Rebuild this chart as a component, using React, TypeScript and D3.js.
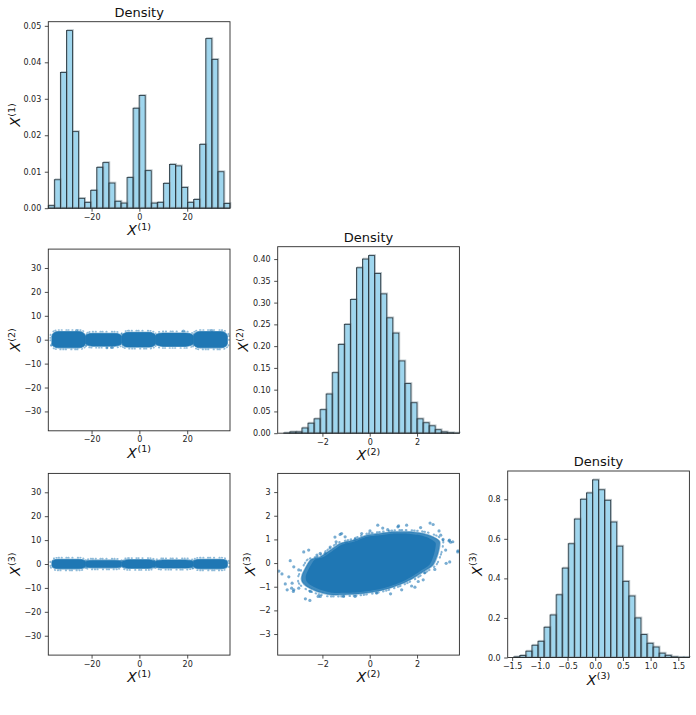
import React, { useEffect, useRef } from 'react';
import * as d3 from 'd3';

const WIDTH = 696;
const HEIGHT = 715;

// axis limits of the three variables
const x1Domain: [number, number] = [-38.1, 37.9];
const x2Domain: [number, number] = [-3.89, 3.79];
const x3Domain: [number, number] = [-1.58, 1.7];

// histogram densities, 30 equal bins spanning each axis range
const x1Density = [0.0007, 0.0078, 0.0372, 0.0487, 0.021, 0.0027, 0.0016, 0.0049, 0.0112, 0.0125,
  0.0069, 0.0019, 0.0014, 0.0084, 0.0274, 0.0309, 0.0103, 0.0014, 0.0016, 0.0068,
  0.012, 0.0116, 0.0057, 0.0016, 0.0024, 0.0175, 0.0465, 0.0408, 0.01, 0.0013];
const x2Density = [0, 0.0005, 0.003, 0.003, 0.012, 0.023, 0.033, 0.054, 0.09, 0.139,
  0.204, 0.25, 0.307, 0.38, 0.4, 0.408, 0.367, 0.32, 0.265, 0.23,
  0.166, 0.114, 0.07, 0.033, 0.024, 0.017, 0.008, 0.003, 0.001, 0.0003];
const x3Density = [0, 0.003, 0.01, 0.032, 0.062, 0.082, 0.153, 0.215, 0.317, 0.452,
  0.575, 0.7, 0.8, 0.832, 0.898, 0.848, 0.795, 0.685, 0.563, 0.385,
  0.311, 0.2, 0.116, 0.072, 0.053, 0.022, 0.011, 0.003, 0.001, 0.001];

// tick values
const x1Ticks = [-20, 0, 20];
const x1WideTicks = [-30, -20, -10, 0, 10, 20, 30];
const x2Ticks = [-2, 0, 2];
const x2WideTicks = [-3, -2, -1, 0, 1, 2, 3];
const x3Ticks = [-1.5, -1, -0.5, 0, 0.5, 1, 1.5];
const dens1Ticks = [0, 0.01, 0.02, 0.03, 0.04, 0.05];
const dens2Ticks = [0, 0.05, 0.1, 0.15, 0.2, 0.25, 0.3, 0.35, 0.4];
const dens3Ticks = [0, 0.2, 0.4, 0.6, 0.8];

// the five groups along X(1) and the half spread of X(2), X(3) inside each
const groupCenter = [-29.6, -15.0, -0.3, 14.6, 29.7];
const groupHalfWidth = [7.0, 7.6, 7.0, 8.0, 7.1];
const groupHalfX2 = [3.4, 2.7, 3.1, 2.8, 3.4];
const groupHalfX3 = [2.0, 1.6, 1.8, 1.7, 2.0];

// stray points above / below the groups (X1, X2)
const strayX1X2: [number, number][] = [[-26.3, 3.9], [18.4, 3.6], [30.3, 3.9], [-36.6, -2.1], [-13.6, -3.4], [-11.5, -3.3]];

// X(2) vs X(3): outline of the dense cloud
const cloudOutline: [number, number][] = [
  [-2.86, -0.5], [-2.51, 0.13], [-2.09, 0.27], [-1.67, 0.55], [-1.25, 0.83], [-0.69, 0.97],
  [-0.13, 1.18], [0.43, 1.25], [1.0, 1.32], [1.7, 1.32], [2.26, 1.25], [2.68, 1.11],
  [2.96, 0.9], [2.89, 0.41], [2.68, -0.08], [2.26, -0.37], [1.84, -0.64], [1.42, -0.85],
  [0.85, -1.06], [0.29, -1.2], [-0.41, -1.3], [-1.11, -1.34], [-1.67, -1.34], [-2.23, -1.2],
  [-2.65, -1.0], [-2.86, -0.79]];

// scattered points around the cloud
const cloudStray: [number, number][] = [
  [0.34, 1.6], [0.55, 1.48], [0.76, 1.41], [1.22, 1.57], [1.56, 1.6], [2.15, 1.5], [2.55, 1.69],
  [2.68, 1.63], [2.93, 1.36], [3.0, 1.18], [3.1, 1.0], [3.35, 0.94], [3.42, 0.88], [3.21, 0.55],
  [3.73, 0.52], [3.38, 0.05], [2.75, -0.27], [2.33, -0.41], [2.26, -0.71], [2.05, -0.78],
  [1.77, -0.97], [1.91, -1.02], [1.35, -1.13], [0.88, -1.3], [0.29, -1.27], [-0.62, -1.41],
  [-1.11, -1.41], [-2.09, -1.41], [-2.51, -1.2], [-2.72, -1.51], [-3.0, -1.06], [-3.21, -1.13],
  [-3.28, -0.85], [-3.42, -0.58], [-3.57, -0.88], [-3.71, -0.46], [-3.36, 0.1], [-3.21, -0.16],
  [-3.0, -0.29], [-2.79, 0.47], [-2.58, 0.55], [-2.09, 0.41], [-1.67, 0.68], [-1.25, 1.21],
  [-1.04, 1.11], [-0.62, 1.0], [-0.34, 1.25], [0.01, 1.36], [-0.97, 0.83], [-1.42, 0.9],
  [-1.88, 0.41], [-2.23, 0.34], [-3.84, -0.34], [-3.49, -1.13], [-3.3, -1.06], [-3.23, -1.2],
  [-2.53, -1.58], [-2.18, -1.41], [1.19, 1.53], [3.23, -0.01], [3.37, 0.97], [3.51, 0.9],
  [3.72, 0.47], [-1.19, 1.25], [-1.47, 1.1]];

// layout
const colLeft = [48.3, 277.7, 507.7];
const rowTop = [21.7, 246.7, 471];
const cellW = 181.7;
const cellH = 186.5;
const squareSize = 181.7;

const FONT = "'DejaVu Sans', sans-serif";
const BLUE = '#1f77b4';
const SPECKLE = '0.5 2.4 0.5 4.2 0.5 1.6 0.5 3.4 0.5 5 0.5 2';

type Sel = d3.Selection<SVGGElement, unknown, null, undefined>;

function styleAxis(ax: Sel) {
  ax.select('.domain').remove();
  ax.selectAll('line').attr('stroke', '#222').attr('stroke-width', 0.8);
  ax.selectAll('text').attr('fill', '#222').style('font-size', '8px').style('font-family', FONT);
}

function mathLabel(g: Sel, n: number, x: number, y: number, rotate: boolean) {
  const t = g.append('text')
    .attr('transform', `translate(${x},${y})${rotate ? ' rotate(-90)' : ''}`)
    .attr('text-anchor', 'middle')
    .attr('fill', '#111')
    .style('font-family', FONT);
  t.append('tspan').attr('font-style', 'italic').attr('font-size', 14).text('X');
  t.append('tspan').attr('font-size', 9.5).attr('dy', -5.5).attr('dx', 0.5).text(`(${n})`);
}

function axes(g: Sel, x: d3.ScaleLinear<number, number>, y: d3.ScaleLinear<number, number>,
  w: number, h: number, xTicks: number[], yTicks: number[], xFmt: string, yFmt: string) {
  const bx = g.append('g').attr('transform', `translate(0,${h})`)
    .call(d3.axisBottom(x).tickValues(xTicks).tickFormat(d3.format(xFmt)).tickSize(3.5).tickPadding(2.5));
  styleAxis(bx);
  const ly = g.append('g')
    .call(d3.axisLeft(y).tickValues(yTicks).tickFormat(d3.format(yFmt)).tickSize(3.5).tickPadding(3.5));
  styleAxis(ly);
  g.append('rect').attr('width', w).attr('height', h)
    .attr('fill', 'none').attr('stroke', '#2a2a2a').attr('stroke-width', 0.9);
}

function drawHist(root: Sel, k: number, domain: [number, number], density: number[],
  xTicks: number[], yTicks: number[], xFmt: string, yFmt: string, ylabOff: number) {
  const g = root.append('g').attr('transform', `translate(${colLeft[k]},${rowTop[k]})`);
  const x = d3.scaleLinear().domain(domain).range([0, cellW]);
  const y = d3.scaleLinear().domain([0, (d3.max(density) as number) * 1.05]).range([cellH, 0]);
  const step = (domain[1] - domain[0]) / density.length;
  const bins = density.map((d, i) => ({ x0: domain[0] + i * step, x1: domain[0] + (i + 1) * step, d }));

  g.selectAll('rect.fill').data(bins).join('rect').attr('class', 'fill')
    .attr('x', b => x(b.x0)).attr('width', b => x(b.x1) - x(b.x0))
    .attr('y', b => y(b.d)).attr('height', b => cellH - y(b.d))
    .attr('fill', '#9fd6ee');
  // faint offset edge that shows next to each outline
  g.selectAll('rect.shadow').data(bins).join('rect').attr('class', 'shadow')
    .attr('x', b => x(b.x0) + 0.9).attr('width', b => x(b.x1) - x(b.x0))
    .attr('y', b => y(b.d) - 0.9).attr('height', b => cellH - y(b.d))
    .attr('fill', 'none').attr('stroke', '#8e9ea6').attr('stroke-opacity', 0.6).attr('stroke-width', 0.9);
  g.selectAll('rect.edge').data(bins).join('rect').attr('class', 'edge')
    .attr('x', b => x(b.x0)).attr('width', b => x(b.x1) - x(b.x0))
    .attr('y', b => y(b.d)).attr('height', b => cellH - y(b.d))
    .attr('fill', 'none').attr('stroke', '#2c3c45').attr('stroke-width', 0.9);

  axes(g, x, y, cellW, cellH, xTicks, yTicks, xFmt, yFmt);

  g.append('text').attr('x', cellW / 2).attr('y', -5).attr('text-anchor', 'middle')
    .attr('fill', '#111').style('font-family', FONT).style('font-size', '13px').text('Density');
  mathLabel(g, k + 1, cellW / 2, cellH + 27, false);
  mathLabel(g, k + 1, -ylabOff, cellH / 2, true);
}

function scatterFrame(root: Sel, row: number, col: number, id: string) {
  const top = rowTop[row] + (cellH - squareSize) / 2;
  const g = root.append('g').attr('transform', `translate(${colLeft[col]},${top})`);
  g.append('clipPath').attr('id', id).append('rect').attr('width', squareSize).attr('height', squareSize);
  const inner = g.append('g').attr('clip-path', `url(#${id})`);
  return { g, inner };
}

const App: React.FC = () => {
  const svgRef = useRef<SVGSVGElement>(null);

  useEffect(() => {
    if (!svgRef.current) return;
    const svg = d3.select(svgRef.current);
    svg.selectAll('*').remove();
    svg.append('rect').attr('width', WIDTH).attr('height', HEIGHT).attr('fill', '#fff');
    const root = svg.append('g') as unknown as Sel;

    // diagonal histograms
    drawHist(root, 0, x1Domain, x1Density, x1Ticks, dens1Ticks, 'd', '.2f', 28.3);
    drawHist(root, 1, x2Domain, x2Density, x2Ticks, dens2Ticks, 'd', '.2f', 29.7);
    drawHist(root, 2, x3Domain, x3Density, x3Ticks, dens3Ticks, '.1f', '.1f', 26);

    // X(1) against X(2) and X(3)
    [
      { row: 1, half: groupHalfX2, n: 2, stray: strayX1X2 },
      { row: 2, half: groupHalfX3, n: 3, stray: [] as [number, number][] },
    ].forEach(({ row, half, n, stray }) => {
      const { g, inner } = scatterFrame(root, row, 0, `clip-s${row}`);
      const x = d3.scaleLinear().domain(x1Domain).range([0, squareSize]);
      const y = d3.scaleLinear().domain(x1Domain).range([squareSize, 0]);
      const blob = (pad: number) => (s: d3.Selection<SVGRectElement, number, SVGGElement, unknown>) => s
        .attr('x', (c, i) => x(c - groupHalfWidth[i]) - pad)
        .attr('width', (c, i) => x(c + groupHalfWidth[i]) - x(c - groupHalfWidth[i]) + 2 * pad)
        .attr('y', (c, i) => y(half[i]) - pad)
        .attr('height', (c, i) => y(-half[i]) - y(half[i]) + 2 * pad)
        .attr('rx', (c, i) => (x(c + groupHalfWidth[i]) - x(c - groupHalfWidth[i])) * 0.2 + pad)
        .attr('ry', (c, i) => (y(-half[i]) - y(half[i])) * 0.28 + pad);
      // speckled fringe
      inner.selectAll('rect.ring').data(groupCenter).join('rect').attr('class', 'ring')
        .call(blob(1.6))
        .attr('fill', 'none').attr('stroke', BLUE).attr('stroke-opacity', 0.5)
        .attr('stroke-width', 1.7).attr('stroke-linecap', 'round').attr('stroke-dasharray', SPECKLE);
      inner.selectAll('rect.blob').data(groupCenter).join('rect').attr('class', 'blob')
        .call(blob(0))
        .attr('fill', BLUE)
        .attr('stroke', BLUE).attr('stroke-opacity', 0.7).attr('stroke-width', 1.2);
      inner.selectAll('circle').data(stray).join('circle')
        .attr('cx', d => x(d[0])).attr('cy', d => y(d[1])).attr('r', 1.5)
        .attr('fill', BLUE).attr('fill-opacity', 0.55);
      axes(g, x, y, squareSize, squareSize, x1Ticks, x1WideTicks, 'd', 'd');
      mathLabel(g, 1, squareSize / 2, squareSize + 27, false);
      mathLabel(g, n, -28.3, squareSize / 2, true);
    });

    // X(2) against X(3)
    {
      const { g, inner } = scatterFrame(root, 2, 1, 'clip-s23');
      const x = d3.scaleLinear().domain(x2Domain).range([0, squareSize]);
      const y = d3.scaleLinear().domain(x2Domain).range([squareSize, 0]);
      const outline = d3.line<[number, number]>()
        .x(d => x(d[0])).y(d => y(d[1]))
        .curve(d3.curveCardinalClosed.tension(0.3));
      const around = (k: number) => `translate(${x(0.1)},${y(0)}) scale(${k}) translate(${-x(0.1)},${-y(0)})`;
      inner.append('path').attr('d', outline(cloudOutline)).attr('transform', around(1.05))
        .attr('fill', 'none').attr('stroke', BLUE).attr('stroke-opacity', 0.55)
        .attr('stroke-width', 2).attr('stroke-linecap', 'round').attr('stroke-dasharray', SPECKLE);
      inner.append('path').attr('d', outline(cloudOutline))
        .attr('fill', BLUE).attr('fill-opacity', 0.85)
        .attr('stroke', BLUE).attr('stroke-opacity', 0.5).attr('stroke-width', 1.5);
      inner.append('path').attr('d', outline(cloudOutline)).attr('transform', around(0.94))
        .attr('fill', BLUE);
      inner.selectAll('circle').data(cloudStray).join('circle')
        .attr('cx', d => x(d[0])).attr('cy', d => y(d[1])).attr('r', 1.6)
        .attr('fill', BLUE).attr('fill-opacity', 0.6);
      axes(g, x, y, squareSize, squareSize, x2Ticks, x2WideTicks, 'd', 'd');
      mathLabel(g, 2, squareSize / 2, squareSize + 27, false);
      mathLabel(g, 3, -22.7, squareSize / 2, true);
    }
  }, []);

  return (
    <svg ref={svgRef} width={WIDTH} height={HEIGHT}
      style={{ position: 'absolute', left: 0, top: 0, display: 'block' }} />
  );
};

export default App;
